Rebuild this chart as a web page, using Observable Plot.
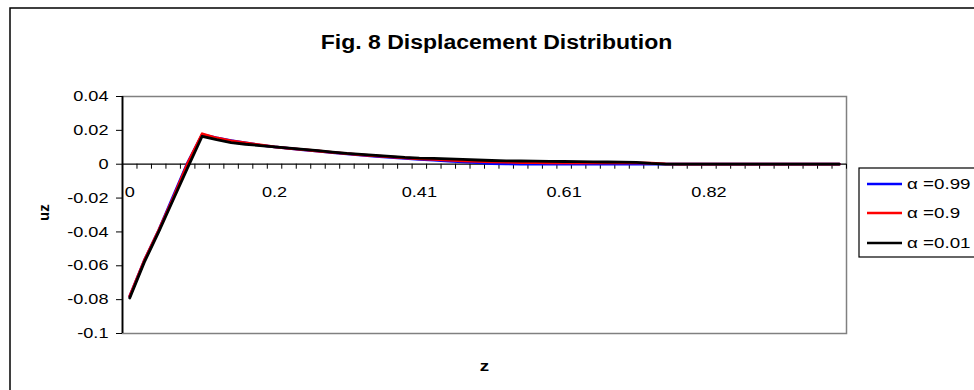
<!DOCTYPE html>
<html>
<head>
<meta charset="utf-8">
<script src="https://cdn.jsdelivr.net/npm/d3@7"></script>
<script src="https://cdn.jsdelivr.net/npm/@observablehq/plot@0.6"></script>
<style>
  html, body { margin: 0; padding: 0; background: #fff; }
</style>
</head>
<body>
<script>
// z categories (50 evenly spaced categories on a category axis)
const zValues = [0,0.020,0.041,0.061,0.082,0.102,0.122,0.143,0.163,0.184,
  0.204,0.224,0.245,0.265,0.286,0.306,0.327,0.347,0.367,0.388,
  0.408,0.429,0.449,0.469,0.490,0.510,0.531,0.551,0.571,0.592,
  0.612,0.633,0.653,0.673,0.694,0.714,0.735,0.755,0.776,0.796,
  0.816,0.837,0.857,0.878,0.898,0.918,0.939,0.959,0.980,1.000];

// uz for alpha = 0.99
const uzAlpha099 = [-0.078,-0.057,-0.039,-0.019,0.001,0.0175,0.0155,0.0140,0.0126,0.0113,
  0.0102,0.0093,0.0085,0.0077,0.0069,0.0061,0.0054,0.0047,0.0041,0.0035,
  0.0029,0.0024,0.0019,0.0014,0.0009,0.0004,0.0002,0.0001,0,0,
  0,0,0,0,0,0,0,0,0,0,
  0,0,0,0,0,0,0,0,0,0];

// uz for alpha = 0.9
const uzAlpha09 = [-0.078,-0.057,-0.039,-0.020,0.0005,0.0180,0.0155,0.0138,0.0126,0.0114,
  0.0103,0.0094,0.0086,0.0078,0.0070,0.0062,0.0055,0.0049,0.0043,0.0037,
  0.0032,0.0028,0.0024,0.0020,0.0017,0.0014,0.0012,0.0010,0.0009,0.0008,
  0.0008,0.0008,0.0008,0.0008,0.0008,0.0008,0.0006,0.0002,0,0,
  0,0,0,0,0,0,0,0,0,0];

// uz for alpha = 0.01
const uzAlpha001 = [-0.079,-0.058,-0.040,-0.021,-0.002,0.0165,0.0145,0.0128,0.0118,0.0110,
  0.0102,0.0095,0.0088,0.0080,0.0072,0.0064,0.0058,0.0052,0.0046,0.0040,
  0.0036,0.0034,0.0031,0.0028,0.0025,0.0022,0.0020,0.0019,0.0018,0.0017,
  0.0016,0.0015,0.0014,0.0013,0.0012,0.0011,0.0005,0.0001,0,0,
  0,0,0,0,0,0,0,0,0,0];

const seriesNames = ["α =0.99", "α =0.9", "α =0.01"];
const seriesColors = ["#0000ff", "#ff0000", "#000000"];
const yTicks = [0.04, 0.02, 0, -0.02, -0.04, -0.06, -0.08, -0.1];
const xLabelEvery = 10;
const titleText = "Fig. 8 Displacement Distribution";
const xTitle = "z";
const yTitle = "uz";

const allSeries = [uzAlpha099, uzAlpha09, uzAlpha001];
const rows = [];
allSeries.forEach((vals, s) => vals.forEach((v, i) => rows.push({i, z: zValues[i], uz: v, series: seriesNames[s]})));
const xLabels = zValues.map((z, i) => ({i, label: String(+z.toFixed(2))})).filter(d => d.i % xLabelEvery === 0);
const boundaries = zValues.map((z, i) => i + 0.5);

const chart = Plot.plot({
  width: 974,
  height: 390,
  marginLeft: 122,
  marginRight: 128,
  marginTop: 96,
  marginBottom: 57,
  style: {fontFamily: "'Liberation Sans', Arial, sans-serif", fontSize: "14.5px", background: "white", color: "black"},
  x: {domain: [-0.5, zValues.length - 0.5], axis: null},
  y: {domain: [-0.1, 0.04], axis: null},
  color: {domain: seriesNames, range: seriesColors},
  marks: [
    Plot.frame({stroke: "#808080", strokeWidth: 1.5}),
    Plot.ruleY([0], {stroke: "black", strokeWidth: 1.2}),
    Plot.ruleX(boundaries, {y1: 0, y2: 0, insetBottom: -5, stroke: "black", strokeWidth: 1}),
    Plot.ruleX([-0.5], {stroke: "black", strokeWidth: 1.8}),
    Plot.axisY({ticks: yTicks, tickSize: 6, tickPadding: 8, tickFormat: d => String(+d.toFixed(2)), fontSize: 14.5, stroke: "black", label: null}),
    Plot.text(xLabels, {x: "i", y: 0, text: "label", dy: 28, fontSize: 14.5}),
    Plot.line(rows, {x: "i", y: "uz", z: "series", stroke: "series", strokeWidth: 2.8, strokeLinejoin: "round"}),
    Plot.text([titleText], {frameAnchor: "top", dx: 12, dy: -62, fontSize: 20, fontWeight: "bold", className: "ttl"}),
    Plot.text([xTitle], {frameAnchor: "bottom", dy: 37, fontSize: 15, fontWeight: "bold"}),
    Plot.text([yTitle], {frameAnchor: "left", dx: -78, dy: 6, rotate: -90, fontSize: 15, fontWeight: "bold", className: "ytl"})
  ]
});
document.body.append(chart);

const svg = d3.select(chart);
// outer chart border
svg.insert("rect", ":first-child")
  .attr("x", 10).attr("y", 8).attr("width", 1000).attr("height", 400)
  .attr("fill", "white").attr("stroke", "black").attr("stroke-width", 1.5);

// legend
const lg = svg.append("g").attr("text-anchor", "start");
lg.append("rect").attr("x", 859).attr("y", 168).attr("width", 200).attr("height", 89)
  .attr("fill", "white").attr("stroke", "black").attr("stroke-width", 1.2);
const rowY = [184, 213, 243];
seriesNames.forEach((name, k) => {
  lg.append("line").attr("x1", 867).attr("x2", 902).attr("y1", rowY[k]).attr("y2", rowY[k])
    .attr("stroke", seriesColors[k]).attr("stroke-width", 2.6);
  lg.append("text").attr("x", 907).attr("y", rowY[k]).attr("dy", "0.35em")
    .attr("text-anchor", "start")
    .attr("font-size", 15).attr("fill", "black").text(name);
});

// the reference is horizontally stretched: widen glyphs accordingly
chart.querySelectorAll("text").forEach(t => {
  const inTitle = t.closest(".ttl");
  const inY = t.closest(".ytl");
  if (inY) return;
  const f = inTitle ? 1.15 : 1.25;
  const len = t.getComputedTextLength();
  if (len > 0) {
    t.setAttribute("textLength", (len * f).toFixed(1));
    t.setAttribute("lengthAdjust", "spacingAndGlyphs");
  }
});
</script>
</body>
</html>
